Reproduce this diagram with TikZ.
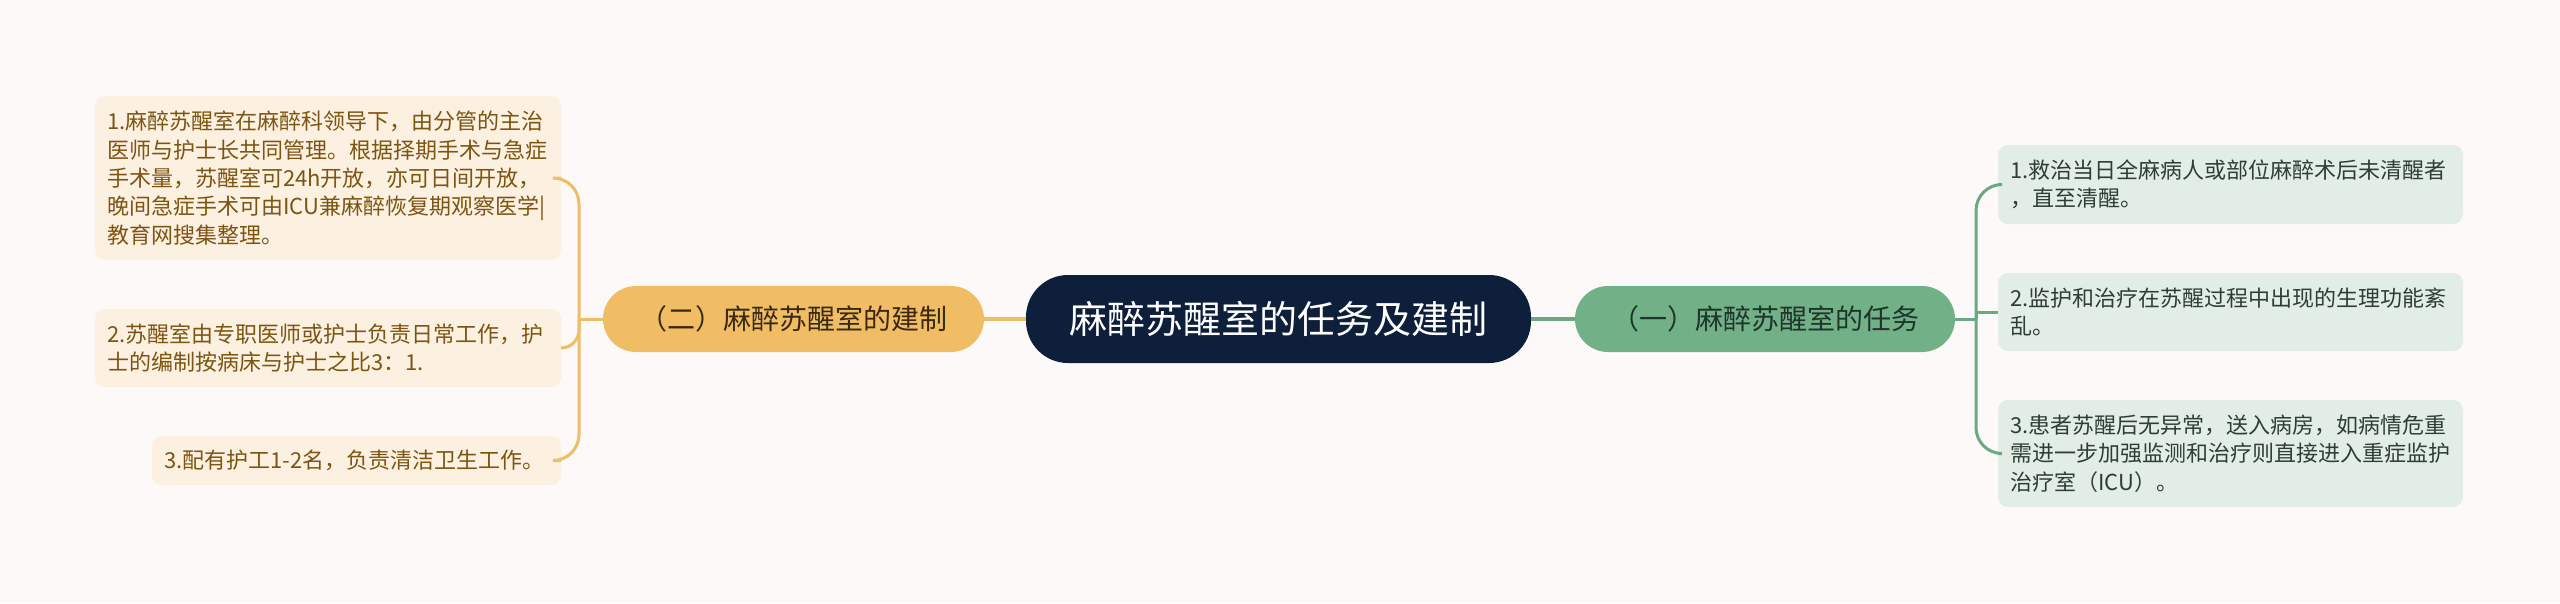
\documentclass[tikz,border=0pt]{standalone}
\usepackage{fontspec}
\setmainfont{Noto Sans CJK SC}
\definecolor{bgc}{HTML}{FDF9F8}
\definecolor{rootc}{HTML}{0D1F3B}
\definecolor{orc}{HTML}{F0BD64}
\definecolor{orline}{HTML}{EEBD68}
\definecolor{ortext}{HTML}{3A2912}
\definecolor{lbox}{HTML}{FCF0E0}
\definecolor{ltext}{HTML}{7C5513}
\definecolor{grc}{HTML}{72B088}
\definecolor{grline}{HTML}{6CA982}
\definecolor{grtext}{HTML}{1E3529}
\definecolor{rbox}{HTML}{E2EEE5}
\definecolor{rtext}{HTML}{2E3D35}
\begin{document}
\begin{tikzpicture}[x=1pt,y=-1pt,
  every node/.style={inner sep=0pt, outer sep=0pt},
  rootbox/.style={fill=rootc, rounded corners=42pt, minimum width=505pt, minimum height=88pt, text=white, font=\fontsize{38}{44}\selectfont},
  mainL/.style={fill=orc, rounded corners=33pt, minimum width=381pt, minimum height=66pt, text=ortext, font=\fontsize{28}{34}\selectfont},
  mainR/.style={fill=grc, rounded corners=33pt, minimum width=380pt, minimum height=66pt, text=grtext, font=\fontsize{28}{34}\selectfont},
  leafL/.style={fill=lbox, rounded corners=10pt, text=ltext, align=left, inner xsep=12pt, font=\fontsize{22}{28.3}\selectfont},
  leafR/.style={fill=rbox, rounded corners=10pt, text=rtext, align=left, inner xsep=12pt, text width=441pt, font=\fontsize{22}{28.3}\selectfont},
  linkL/.style={draw=orline, line width=3pt},
  linkR/.style={draw=grline, line width=3pt},
  trunkL/.style={draw=orline, line width=4pt},
  trunkR/.style={draw=grline, line width=4pt}
]
\fill[bgc] (0,0) rectangle (2560,603);
\useasboundingbox (0,0) rectangle (2560,603);

% nodes
\node[rootbox] (root) at (1278.5,319) {麻醉苏醒室的任务及建制};
\node[mainL] (L) at (793.5,319) {（二）麻醉苏醒室的建制};
\node[mainR] (R) at (1765,319) {（一）麻醉苏醒室的任务};

\node[leafL, text width=442pt, minimum height=164pt] (L1) at (328,178)
  {1.麻醉苏醒室在麻醉科领导下，由分管的主治\\医师与护士长共同管理。根据择期手术与急症\\手术量，苏醒室可24h开放，亦可日间开放，\\晚间急症手术可由ICU兼麻醉恢复期观察医学|\\教育网搜集整理。};
\node[leafL, text width=442pt, minimum height=78pt] (L2) at (328,348)
  {2.苏醒室由专职医师或护士负责日常工作，护\\士的编制按病床与护士之比3：1.};
\node[leafL, text width=385pt, minimum height=49pt] (L3) at (356.5,460.5)
  {3.配有护工1-2名，负责清洁卫生工作。};

\node[leafR, minimum height=79pt] (R1) at (2230.5,184.5)
  {1.救治当日全麻病人或部位麻醉术后未清醒者\\，直至清醒。};
\node[leafR, minimum height=78pt] (R2) at (2230.5,312)
  {2.监护和治疗在苏醒过程中出现的生理功能紊\\乱。};
\node[leafR, minimum height=107pt] (R3) at (2230.5,453.5)
  {3.患者苏醒后无异常，送入病房，如病情危重\\需进一步加强监测和治疗则直接进入重症监护\\治疗室（ICU）。};

% junctions
\coordinate (lj) at (579,319);
\coordinate (rj) at (1976,319);

% connectors
\draw[trunkL] (L.east) -- (root.west);
\draw[trunkR] (root.east) -- (R.west);
\draw[linkL] (L.west) -- (lj);
\draw[linkR] (R.east) -- (rj);
\draw[linkL, rounded corners=26pt] (lj) |- (L1.east);
\draw[linkL, rounded corners=18pt] (lj) |- (L2.east);
\draw[linkL, rounded corners=26pt] (lj) |- (L3.east);
\draw[linkR, rounded corners=26pt] (rj) |- (R1.west);
\draw[linkR] (rj) |- (R2.west);
\draw[linkR, rounded corners=26pt] (rj) |- (R3.west);
\end{tikzpicture}
\end{document}
